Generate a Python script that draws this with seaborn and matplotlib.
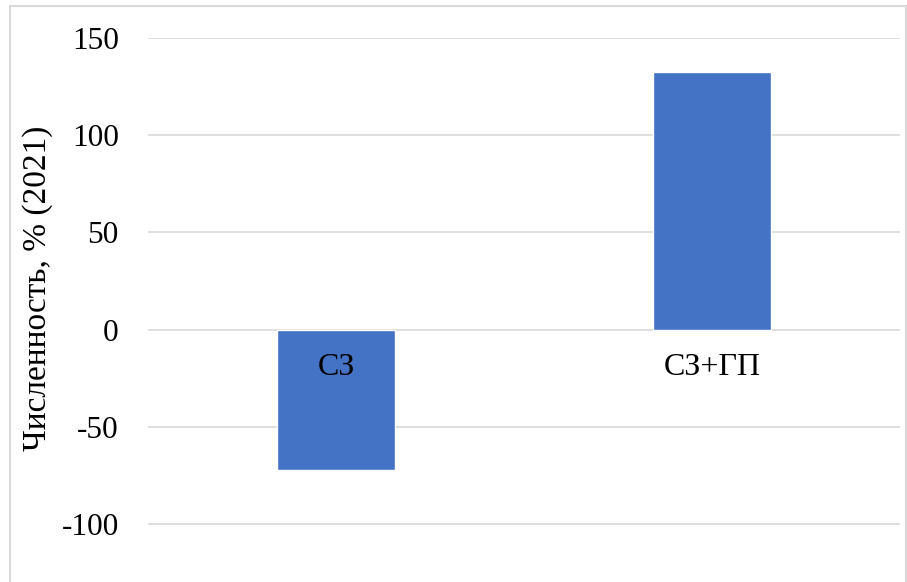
import numpy as np
import pandas as pd
import seaborn as sns
import matplotlib.pyplot as plt
from matplotlib.patches import Rectangle

categories = ["СЗ", "СЗ+ГП"]
values = [-72, 132.5]
y_ticks = [-100, -50, 0, 50, 100, 150]

df = pd.DataFrame({"group": categories, "value": values})

sns.set_style("white")
plt.rcParams["font.family"] = ["Liberation Serif", "DejaVu Serif"]
plt.rcParams["axes.unicode_minus"] = False
plt.rcParams["text.color"] = "black"
plt.rcParams["xtick.color"] = "black"
plt.rcParams["ytick.color"] = "black"
plt.rcParams["axes.labelcolor"] = "black"

W, H = 907, 582
fig = plt.figure(figsize=(W / 100, H / 100), dpi=100)
# plot area in pixels: x 148..900, y 38..582
ax = fig.add_axes([148 / W, 0, (900 - 148) / W, (582 - 38) / H])

sns.barplot(data=df, x="group", y="value", color="#4472C4", width=0.314,
            saturation=1, ax=ax)

ax.set_ylim(-129.8, 150)
ax.set_xlim(-0.5, 1.5)
ax.set_yticks(y_ticks)
ax.yaxis.grid(True, color="#D9D9D9", linewidth=1.2)
ax.set_axisbelow(True)
# category labels sit on top of the bars, grid stays behind
ax.xaxis.set_zorder(3)
ax.yaxis.set_zorder(0.5)
for s in ["top", "right", "left"]:
    ax.spines[s].set_visible(False)
ax.spines["bottom"].set_position(("data", 0))
ax.spines["bottom"].set_visible(False)
ax.tick_params(axis="y", length=0, pad=21, labelsize=22.5)
ax.tick_params(axis="x", length=0, pad=17, labelsize=23)
ax.set_xlabel("")
ax.set_ylabel("Численность, % (2021)", fontsize=24)
ax.yaxis.set_label_coords(-0.126, 0.54)

# chart border
fig.patches.append(Rectangle((10 / W, -0.1), (906 - 10) / W, (H - 6) / H + 0.1,
                             transform=fig.transFigure, fill=False,
                             edgecolor="#D9D9D9", linewidth=1.5))

fig.savefig("out.png", dpi=100)
